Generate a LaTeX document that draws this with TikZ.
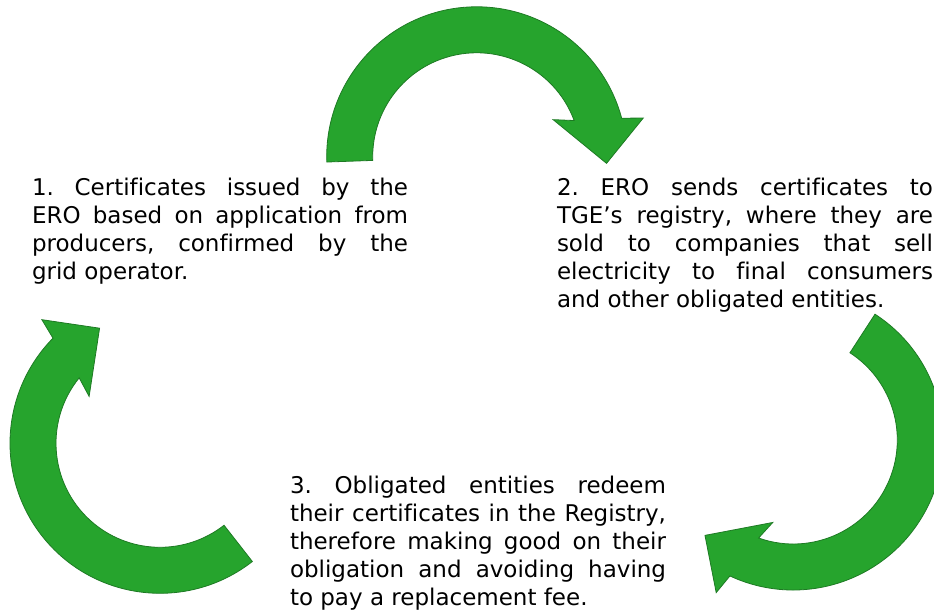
\documentclass[tikz,border=0pt]{standalone}
\usepackage{fontspec}
\setmainfont{DejaVu Sans}[Ligatures={TeX,NoCommon}]
\usepackage{tikz}

\definecolor{cyclegreen}{RGB}{38,164,45}
\definecolor{cycleedge}{RGB}{30,122,36}

\begin{document}
\frenchspacing
\begin{tikzpicture}[x=1pt,y=1pt]
  \tikzstyle{every node}=[inner sep=0pt,outer sep=0pt,align=justify,
                          font=\fontsize{23}{28}\selectfont]
  \tikzstyle{stepbox}=[text width=376pt,anchor=base west]
  \tikzstyle{bigarrow}=[fill=cyclegreen,draw=cycleedge,line width=0.8pt,line join=miter]
\useasboundingbox (0,0) rectangle (934,610);

\node [stepbox] (s1) at (32,414) {1. Certificates issued by the\linebreak
ERO based on application from\linebreak producers, confirmed by the\linebreak grid operator.};
\node [stepbox] (s2) at (557,414) {2. ERO sends certificates to\linebreak
TGE’s registry, where they are\linebreak sold to companies that sell\linebreak
electricity to final consumers\linebreak and other obligated entities.};
\node [stepbox] (s3) at (290,116) {3. Obligated entities redeem\linebreak
their certificates in the Registry,\linebreak therefore making good on their\linebreak
obligation and avoiding having\linebreak to pay a replacement fee.};

% top arrow, 1 -> 2
\filldraw[bigarrow,shift={(476.7,453.2)}] (182:150) arc[start angle=182,end angle=14.9,radius=150]
  -- (13.1:171) -- (-2.9:130) -- (25.9:85) -- (20.4:104)
  arc[start angle=20.4,end angle=182,radius=104] -- cycle;
% right arrow, 2 -> 3
\filldraw[bigarrow,shift={(793.3,170)}] (57:150) arc[start angle=57,end angle=-115,radius=150]
  -- (-116.8:171) -- (-132.8:130) -- (-104:85) -- (-109.5:104)
  arc[start angle=-109.5,end angle=57,radius=104] -- cycle;
% left arrow, 3 -> 1
\filldraw[bigarrow,shift={(160,166.7)}] (-52:150) arc[start angle=-52,end angle=-224.5,radius=150]
  -- (-226.3:171) -- (-242.3:130) -- (-213.5:85) -- (-219:104)
  arc[start angle=-219,end angle=-52,radius=104] -- cycle;

\end{tikzpicture}
\end{document}
